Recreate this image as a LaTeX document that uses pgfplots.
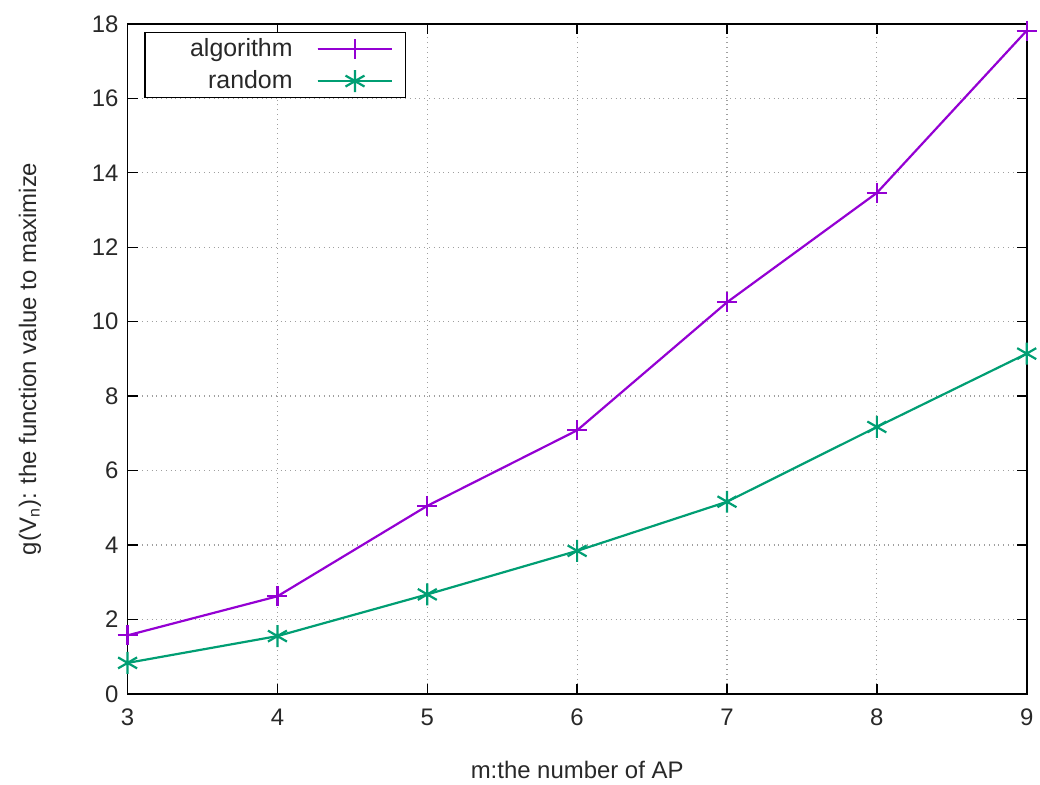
\documentclass[border=0pt]{standalone}
\usepackage{pgfplots}
\pgfplotsset{compat=1.18}
\usepackage{fontspec}
\setmainfont{Liberation Sans}
\definecolor{gpurple}{RGB}{148,0,211}
\definecolor{ggreen}{RGB}{0,158,115}
\definecolor{gtext}{RGB}{40,40,40}
\begin{document}
\begin{tikzpicture}
\begin{axis}[
  scale only axis,
  width=451pt, height=336pt,
  xmin=3, xmax=9, ymin=0, ymax=18,
  xtick={3,...,9}, ytick={0,2,...,18},
  grid=major,
  major grid style={gray!75, dotted, line width=0.6pt},
  tick align=inside,
  major tick length=5pt,
  tick style={line width=0.7pt, black},
  axis line style={line width=0.8pt},
  /pgf/number format/assume math mode=true,
  tick label style={font=\fontsize{12}{14}\selectfont, color=gtext},
  xticklabel style={yshift=-4pt},
  yticklabel style={xshift=-1pt},
  label style={font=\fontsize{12}{14}\selectfont, color=gtext},
  xlabel={m:the number of AP},
  ylabel={g(V$_{\mathrm{n}}$): the function value to maximize},
  xlabel style={at={(axis description cs:0.5,-0.113)}, anchor=center},
  ylabel style={at={(axis description cs:-0.1086,0.5)}, anchor=center},
  legend style={at={(axis description cs:0.0188,0.988)}, anchor=north west, draw=black, line width=0.6pt,
    font=\fontsize{12.5}{14}\selectfont, text=gtext, inner xsep=6pt, inner ysep=1pt, row sep=1.5pt, column sep=10pt},
  legend plot pos=right,
  legend image code/.code={\draw[#1] (0pt,0pt) -- (37.5pt,0pt); \draw[#1, mark repeat=2, mark phase=2] plot coordinates {(0pt,0pt) (18.75pt,0pt) (37.5pt,0pt)};},
]
\addplot[color=gpurple, line width=1.1pt, mark=+, mark size=5pt, mark options={line width=1.1pt}]
  coordinates {(3,1.57) (4,2.62) (5,5.05) (6,7.08) (7,10.52) (8,13.46) (9,17.82)};
\addlegendentry{\makebox[66pt][r]{algorithm}}
\addplot[color=ggreen, line width=1.1pt, mark=asterisk, mark size=5.5pt, mark options={line width=1.1pt}]
  coordinates {(3,0.83) (4,1.55) (5,2.67) (6,3.84) (7,5.16) (8,7.17) (9,9.14)};
\addlegendentry{\makebox[66pt][r]{random}}
\end{axis}
\path ([xshift=-64pt,yshift=-45.5pt]current axis.south west) rectangle ([xshift=5pt,yshift=12pt]current axis.north east);
\end{tikzpicture}
\end{document}
